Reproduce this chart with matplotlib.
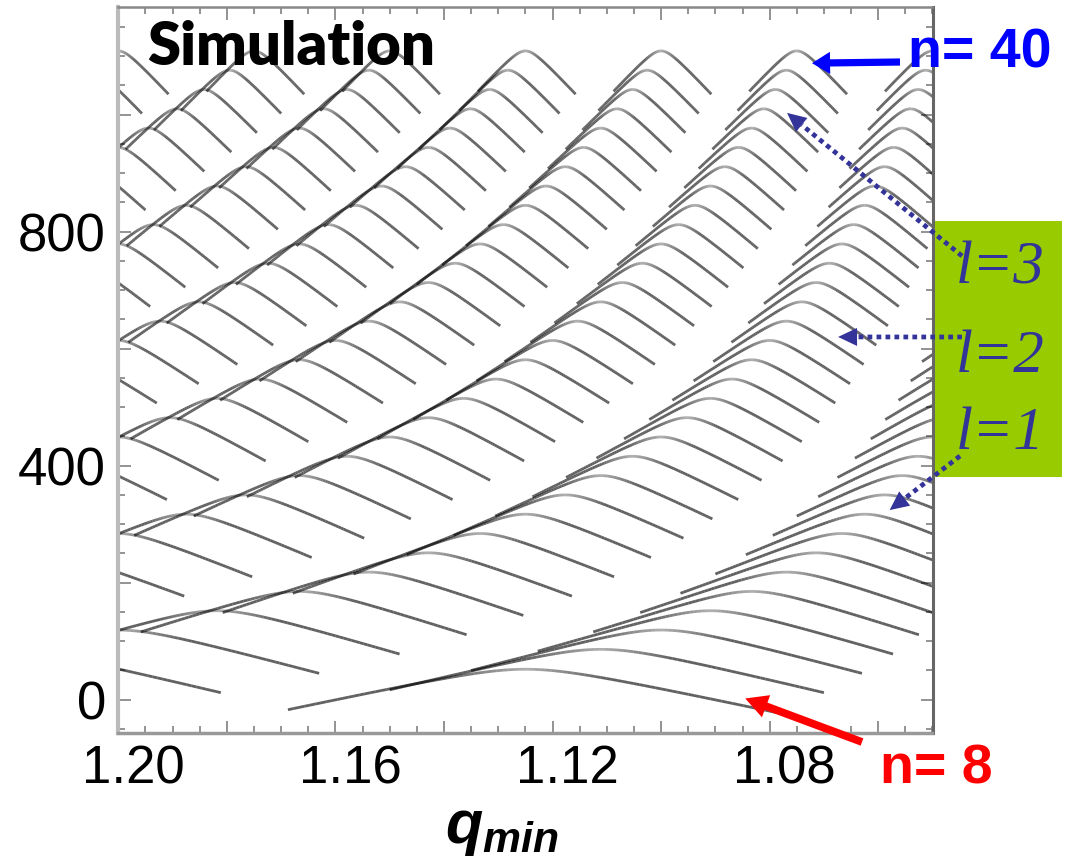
import numpy as np
import matplotlib
matplotlib.use("Agg")
import matplotlib.pyplot as plt
import matplotlib.transforms as mtransforms
from matplotlib.collections import LineCollection
from matplotlib.lines import Line2D
from matplotlib.patches import Polygon, Rectangle, FancyArrowPatch
from matplotlib.ticker import MultipleLocator, FuncFormatter

plt.rcParams['font.family'] = ['Liberation Sans', 'DejaVu Sans']
plt.rcParams['mathtext.fontset'] = 'custom'
plt.rcParams['mathtext.it'] = 'Liberation Sans:italic:bold'
plt.rcParams['mathtext.rm'] = 'Liberation Sans:bold'

# toroidal mode numbers n and the families l = m - n
n_modes = list(range(8, 41))
l_families = [1, 2, 3, 4, 5, 6, 7, 8, 9]

# frequency at the top of each n arch (kHz), n = 8 ... 40
f_top = [52, 86, 119, 152, 185, 218, 251, 284, 317, 350, 383, 416, 449,
         482, 515, 548, 581, 614, 647, 680, 713, 746, 779, 812, 845, 878,
         911, 944, 977, 1010, 1043, 1076, 1109]

# arch shape in terms of v = m - n*q_min
arch_rise = 248.0          # kHz per unit v on the straight flanks
arch_round = 0.08          # rounding of the top
arch_span = (-0.35, 0.37)  # where each arch starts and stops

# axes
q_range = (1.20, 1.05)
f_range = (-57, 1184)
q_labels = [1.20, 1.16, 1.12, 1.08]
f_labels = [0, 400, 800]

# arrow targets (q_min, kHz)
n40_tip = (1.0722, 1088)
n8_tip = (1.0845, 2)
l_tips = {3: (1.0768, 1003), 2: (1.0674, 620), 1: (1.0579, 324)}

W, H = 1068, 866
fig = plt.figure(figsize=(W / 100, H / 100), dpi=100)
ax = fig.add_axes([118.3 / W, 1 - 733 / H, 814.2 / W, 726 / H])
ax.set_xlim(*q_range)
ax.set_ylim(*f_range)


def arch(n, l):
    v = np.linspace(arch_span[0], arch_span[1], 90)
    q = (n + l - v) / n
    f = f_top[n_modes.index(n)] - arch_rise * (np.sqrt(v ** 2 + arch_round ** 2) - arch_round)
    return v, q, f


segs, alphas = [], []
for n in n_modes:
    for l in l_families:
        v, q, f = arch(n, l)
        if q.min() > q_range[0] or q.max() < q_range[1]:
            continue
        pts = np.column_stack([q, f])
        segs.append(np.stack([pts[:-1], pts[1:]], axis=1))
        vm = 0.5 * (v[:-1] + v[1:])
        # tops of the arches come out fainter
        alphas.append(0.62 * (0.5 + 0.5 * np.clip(np.abs(vm) / 0.12, 0, 1)))
segs = np.concatenate(segs)
alphas = np.concatenate(alphas)
colors = np.zeros((len(alphas), 4))
colors[:, 3] = alphas
ax.add_collection(LineCollection(segs, colors=colors, linewidths=2.0, capstyle='butt'))

# ticks
ax.xaxis.set_major_locator(MultipleLocator(0.02))
ax.xaxis.set_minor_locator(MultipleLocator(0.005))
ax.yaxis.set_major_locator(MultipleLocator(200))
ax.yaxis.set_minor_locator(MultipleLocator(50))
ax.xaxis.set_major_formatter(FuncFormatter(
    lambda x, p: f'{x:.2f}' if any(abs(x - t) < 1e-6 for t in q_labels) else ''))
ax.yaxis.set_major_formatter(FuncFormatter(
    lambda y, p: f'{y:.0f}' if any(abs(y - t) < 1e-6 for t in f_labels) else ''))
ax.tick_params(which='both', direction='in', top=True, right=True,
               color='#808080', labelcolor='black', labelsize=38, width=1.2)
ax.tick_params(which='major', length=9)
ax.tick_params(which='minor', length=5)
ax.tick_params(axis='y', pad=9)
ax.tick_params(axis='x', pad=8)
ax.spines['left'].set_color('#bbbbbb')
ax.spines['left'].set_linewidth(3)
ax.spines['bottom'].set_color('#999999')
ax.spines['bottom'].set_linewidth(2.5)
ax.spines['right'].set_color('#666666')
ax.spines['right'].set_linewidth(2.2)
ax.spines['top'].set_color('#888888')
ax.spines['top'].set_linewidth(1.8)

ax.set_xlabel(r'$q_{min}$', fontsize=44, va='center')
ax.xaxis.set_label_coords((502 - 118.3) / 814.2, (733 - 830) / 726)

ident = mtransforms.IdentityTransform()


def px(x, y):
    return (x, H - y)


fig.text(147 / W, 1 - 65 / H, 'Simulation', fontsize=43, fontweight='heavy',
         family=['Lato', 'DejaVu Sans'], ha='left', va='baseline', color='black')

# green box with the l labels
fig.add_artist(Rectangle(px(935, 476.7), 127, 256, transform=ident,
                         facecolor='#99cc00', edgecolor='none'))
navy = '#333399'
for l, yc in zip([3, 2, 1], [269, 357, 434]):
    fig.text(1000 / W, 1 - yc / H, f'l={l}', fontsize=44, style='italic',
             family=['Liberation Serif', 'DejaVu Serif'], color=navy,
             ha='center', va='center')

fig.text(908 / W, 1 - 68 / H, 'n= 40', fontsize=40, fontweight='bold',
         color='#0000ff', ha='left', va='baseline')
fig.text(880 / W, 1 - 783 / H, 'n= 8', fontsize=40, fontweight='bold',
         color='#ff0000', ha='left', va='baseline')


def solid_arrow(start, tip, color, hl, hw, tw):
    fig.add_artist(FancyArrowPatch(start, tip, transform=ident,
                                   arrowstyle=f'simple,head_length={hl},head_width={hw},tail_width={tw}',
                                   mutation_scale=1, shrinkA=0, shrinkB=0,
                                   facecolor=color, edgecolor='none', lw=0))


def dotted_arrow(start, tip, color, hl=19, hw=18):
    s = np.array(start, float)
    t = np.array(tip, float)
    d = (t - s) / np.linalg.norm(t - s)
    p = np.array([-d[1], d[0]])
    b = t - d * hl
    fig.add_artist(Line2D([s[0], b[0]], [s[1], b[1]], transform=ident, color=color,
                          lw=3.4, linestyle=(0, (1, 0.9))))
    fig.add_artist(Polygon([t, b + p * hw / 2, b - p * hw / 2], closed=True,
                           transform=ident, facecolor=color, edgecolor='none'))


solid_arrow(px(900, 62), ax.transData.transform(n40_tip), '#0000ff', 13, 16, 5.2)
solid_arrow(px(862, 742), ax.transData.transform(n8_tip), '#ff0000', 16, 17, 5.6)
dotted_arrow(px(962, 256), ax.transData.transform(l_tips[3]), navy)
dotted_arrow(px(962, 337), ax.transData.transform(l_tips[2]), navy)
dotted_arrow(px(960, 456), ax.transData.transform(l_tips[1]), navy)

# tick labels sit a little right of their ticks
fig.canvas.draw()
shift = mtransforms.ScaledTranslation(0.15, 0, fig.dpi_scale_trans)
for t in ax.xaxis.get_major_ticks():
    t.label1.set_transform(t.label1.get_transform() + shift)

fig.savefig('out.png', dpi=100)
